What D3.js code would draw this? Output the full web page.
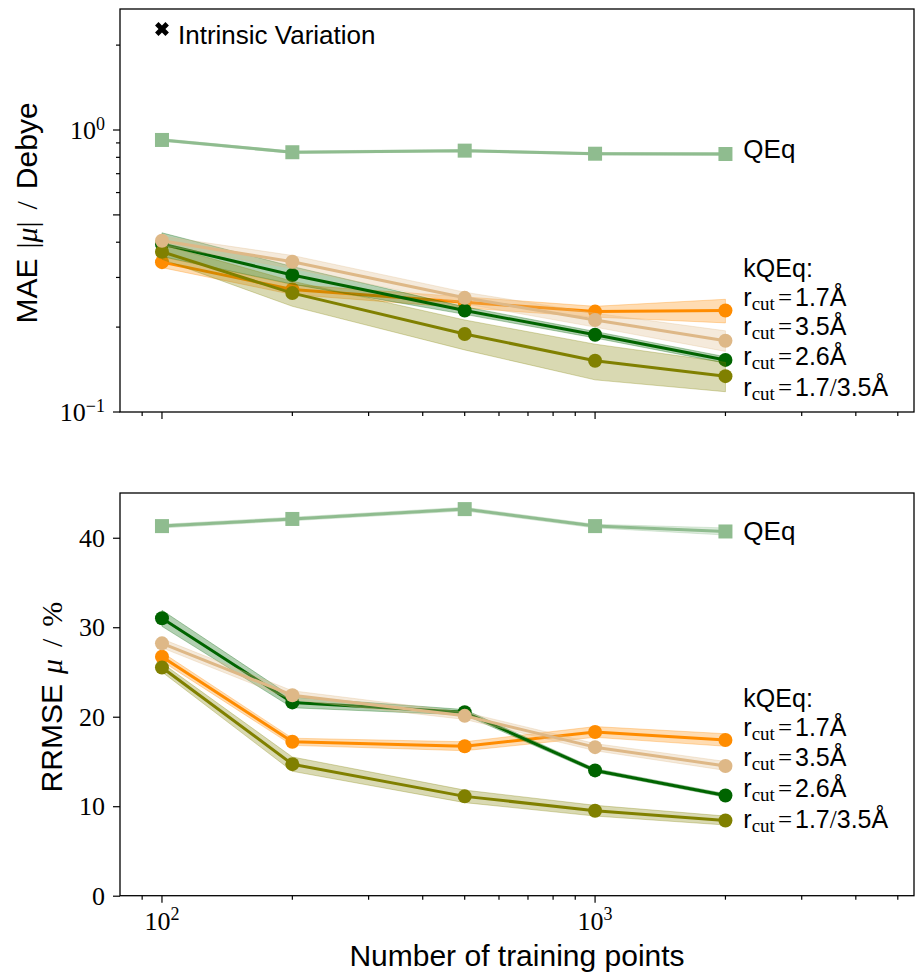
<!DOCTYPE html>
<html>
<head>
<meta charset="utf-8">
<script src="https://cdn.jsdelivr.net/npm/d3@7"></script>
<style>
  body { margin: 0; background: #fff; }
  svg { display: block; }
</style>
</head>
<body>
<div id="chart"></div>
<script>
const trainSizes = [100, 200, 500, 1000, 2000];

// MAE |mu| in Debye: mean and spread for each model
const maeQEq = [0.922, 0.834, 0.845, 0.824, 0.822];
const maeQEqStd = [0.010, 0.008, 0.008, 0.008, 0.010];
const maeR17 = [0.340, 0.272, 0.245, 0.227, 0.229];
const maeR17Std = [0.015, 0.011, 0.011, 0.010, 0.022];
const maeR35 = [0.405, 0.341, 0.254, 0.212, 0.179];
const maeR35Std = [0.015, 0.018, 0.012, 0.012, 0.015];
const maeR26 = [0.394, 0.306, 0.229, 0.188, 0.153];
const maeR26Std = [0.038, 0.022, 0.007, 0.005, 0.004];
const maeR1735 = [0.370, 0.264, 0.189, 0.152, 0.134];
const maeR1735Std = [0.022, 0.027, 0.023, 0.022, 0.016];

// RRMSE mu in %
const rrmseQEq = [41.3, 42.1, 43.2, 41.3, 40.7];
const rrmseQEqStd = [0.2, 0.2, 0.2, 0.2, 0.4];
const rrmseR17 = [26.7, 17.2, 16.7, 18.3, 17.4];
const rrmseR17Std = [0.5, 0.4, 0.5, 0.6, 0.7];
const rrmseR35 = [28.2, 22.4, 20.1, 16.6, 14.5];
const rrmseR35Std = [0.5, 0.5, 0.4, 0.4, 0.5];
const rrmseR26 = [31.0, 21.6, 20.5, 14.0, 11.2];
const rrmseR26Std = [0.9, 0.6, 0.3, 0.2, 0.2];
const rrmseR1735 = [25.5, 14.7, 11.1, 9.5, 8.4];
const rrmseR1735Std = [0.5, 0.8, 0.7, 0.6, 0.5];

const xMajorTicks = [100, 1000];
const xMinorTicks = [90, 200, 300, 400, 500, 600, 700, 800, 900, 2000, 3000, 4000, 5000];
const maeMajorTicks = [0.1, 1];
const maeMinorTicks = [0.2, 0.3, 0.4, 0.5, 0.6, 0.7, 0.8, 0.9, 2];
const rrmseTicks = [0, 10, 20, 30, 40];

// right-hand annotations: QEq, "kQEq:", then one per cutoff
const cutLabels = ["1.7Å", "3.5Å", "2.6Å", "1.7/3.5Å"];
const labelX = 2200;
const maeLabelY = [0.794, 0.301, 0.2376, 0.1875, 0.147, 0.114];
const rrmseLabelY = [39.7, 21.1, 17.9, 14.5, 11.05, 7.6];

const colors = {
    qeq: "#8fbc8f",
    r17: "#ff8c00",
    r35: "#deb887",
    r26: "#006400",
    r1735: "#808000"
};

const SANS = "Liberation Sans, Arial, sans-serif";
const SERIF = "Liberation Serif, Times New Roman, Times, DejaVu Serif, serif";

const width = 915, height = 972;
const svg = d3.select("#chart").append("svg")
    .attr("width", width)
    .attr("height", height);

const x = d3.scaleLog().domain([80, 5450]).range([120, 914]);
const yMae = d3.scaleLog().domain([0.1, 2.686]).range([412, 9]);
const yRrmse = d3.scaleLinear().domain([0, 45]).range([895.7, 493]);

function makeSeries(means, stds, color, marker) {
    return trainSizes.map((n, i) => ({ n, v: means[i], s: stds[i], color, marker }));
}

const maeSeries = [
    makeSeries(maeQEq, maeQEqStd, colors.qeq, "square"),
    makeSeries(maeR17, maeR17Std, colors.r17, "circle"),
    makeSeries(maeR26, maeR26Std, colors.r26, "circle"),
    makeSeries(maeR1735, maeR1735Std, colors.r1735, "circle"),
    makeSeries(maeR35, maeR35Std, colors.r35, "circle")
];
const rrmseSeries = [
    makeSeries(rrmseQEq, rrmseQEqStd, colors.qeq, "square"),
    makeSeries(rrmseR17, rrmseR17Std, colors.r17, "circle"),
    makeSeries(rrmseR26, rrmseR26Std, colors.r26, "circle"),
    makeSeries(rrmseR1735, rrmseR1735Std, colors.r1735, "circle"),
    makeSeries(rrmseR35, rrmseR35Std, colors.r35, "circle")
];

const sans = sel => sel.style("font-family", SANS);
const serif = sel => sel.style("font-family", SERIF);

function drawPanel(y, series, labelY) {
    const g = svg.append("g");
    const [yBottom, yTop] = y.range();

    series.forEach(pts => {
        const c = pts[0].color;
        const area = d3.area()
            .x(d => x(d.n))
            .y0(d => y(d.v - d.s))
            .y1(d => y(d.v + d.s));
        const line = d3.line()
            .x(d => x(d.n))
            .y(d => y(d.v));

        g.append("path")
            .attr("d", area(pts))
            .attr("fill", c)
            .attr("fill-opacity", 0.3)
            .attr("stroke", c)
            .attr("stroke-opacity", 0.3)
            .attr("stroke-width", 1);

        g.append("path")
            .attr("d", line(pts))
            .attr("fill", "none")
            .attr("stroke", c)
            .attr("stroke-width", 3)
            .attr("stroke-linejoin", "round");

        if (pts[0].marker === "square") {
            g.selectAll(null).data(pts).join("rect")
                .attr("x", d => x(d.n) - 7)
                .attr("y", d => y(d.v) - 7)
                .attr("width", 14)
                .attr("height", 14)
                .attr("fill", c);
        } else {
            g.selectAll(null).data(pts).join("circle")
                .attr("cx", d => x(d.n))
                .attr("cy", d => y(d.v))
                .attr("r", 7)
                .attr("fill", c);
        }
    });

    // spines
    g.append("rect")
        .attr("x", x.range()[0])
        .attr("y", yTop)
        .attr("width", x.range()[1] - x.range()[0])
        .attr("height", yBottom - yTop)
        .attr("fill", "none")
        .attr("stroke", "#000")
        .attr("stroke-width", 1.3);

    // x ticks
    const xt = g.append("g").attr("stroke", "#000").attr("stroke-width", 1.2);
    xt.selectAll(null).data(xMajorTicks.concat(xMinorTicks)).join("line")
        .attr("x1", d => x(d)).attr("x2", d => x(d))
        .attr("y1", yBottom)
        .attr("y2", d => yBottom + (xMajorTicks.includes(d) ? 7 : 4));

    // right annotations
    const lx = x(labelX);
    const ann = g.append("g").attr("fill", "#000");
    ann.append("text").call(sans)
        .attr("x", lx).attr("y", y(labelY[0]))
        .attr("font-size", 26)
        .text("QEq");
    ann.append("text").call(sans)
        .attr("x", lx).attr("y", y(labelY[1]))
        .attr("font-size", 25)
        .text("kQEq:");
    cutLabels.forEach((lab, i) => {
        const t = ann.append("text")
            .attr("x", lx).attr("y", y(labelY[i + 2]))
            .attr("font-size", 25);
        t.append("tspan").call(sans).text("r");
        t.append("tspan").call(serif).attr("font-size", 19)
            .attr("dy", 4).text("cut");
        t.append("tspan").call(serif).attr("dy", -4).attr("dx", 3).text("=");
        const parts = lab.split("/");
        t.append("tspan").call(sans).attr("dx", 3).text(parts[0]);
        if (parts.length > 1) {
            t.append("tspan").call(serif).text("/");
            t.append("tspan").call(sans).text(parts[1]);
        }
    });
    return g;
}

// ---- top panel: MAE (log)
const topPanel = drawPanel(yMae, maeSeries, maeLabelY);
const yt = topPanel.append("g").attr("stroke", "#000").attr("stroke-width", 1.2);
yt.selectAll(null).data(maeMajorTicks.concat(maeMinorTicks)).join("line")
    .attr("x1", 120)
    .attr("x2", d => 120 - (maeMajorTicks.includes(d) || d === 0.5 ? 7 : 4))
    .attr("y1", d => yMae(d)).attr("y2", d => yMae(d));

maeMajorTicks.forEach(v => {
    const t = topPanel.append("text").call(serif)
        .attr("x", 105).attr("y", yMae(v) + 8.5)
        .attr("text-anchor", "end")
        .attr("font-size", 26);
    t.append("tspan").text("10");
    t.append("tspan").attr("font-size", 18).attr("dy", -9)
        .text(String(Math.round(Math.log10(v))).replace("-", "\u2212"));
});

// legend for intrinsic variation
topPanel.append("path")
    .attr("d", d3.symbol(d3.symbolCross, 120)())
    .attr("transform", `translate(${x(100)},29) rotate(45)`)
    .attr("fill", "#000");
topPanel.append("text").call(sans)
    .attr("x", 178).attr("y", 43.5)
    .attr("font-size", 26)
    .text("Intrinsic Variation");

const yl1 = topPanel.append("text")
    .attr("transform", "translate(37,213) rotate(-90)")
    .attr("text-anchor", "middle")
    .attr("font-size", 30);
yl1.append("tspan").call(sans).text("MAE");
yl1.append("tspan").call(serif).attr("dx", 10).text("|");
yl1.append("tspan").call(serif).attr("font-style", "italic").text("μ");
yl1.append("tspan").call(serif).text("|");
yl1.append("tspan").call(serif).attr("dx", 12).text("/");
yl1.append("tspan").call(sans).attr("dx", 12).text("Debye");

// ---- bottom panel: RRMSE (linear)
const bottomPanel = drawPanel(yRrmse, rrmseSeries, rrmseLabelY);
const yAxis = d3.axisLeft(yRrmse)
    .tickValues(rrmseTicks)
    .tickSize(7)
    .tickSizeOuter(0)
    .tickPadding(8);
const ya = bottomPanel.append("g")
    .attr("transform", "translate(120,0)")
    .call(yAxis)
    .attr("font-family", null)
    .attr("font-size", null);
ya.select(".domain").remove();
ya.selectAll("line").attr("stroke", "#000").attr("stroke-width", 1.2);
ya.selectAll("text")
    .call(serif)
    .attr("font-size", 26).attr("fill", "#000")
    .attr("dy", "0.33em");

xMajorTicks.forEach(v => {
    const t = bottomPanel.append("text").call(serif)
        .attr("x", x(v)).attr("y", 930)
        .attr("text-anchor", "middle")
        .attr("font-size", 26);
    t.append("tspan").text("10");
    t.append("tspan").attr("font-size", 18).attr("dy", -10)
        .text(String(Math.round(Math.log10(v))));
});

const yl2 = bottomPanel.append("text")
    .attr("transform", "translate(61.5,697) rotate(-90)")
    .attr("text-anchor", "middle")
    .attr("font-size", 30);
yl2.append("tspan").call(sans).text("RRMSE");
yl2.append("tspan").call(serif).attr("font-style", "italic").attr("dx", 10).text("μ");
yl2.append("tspan").call(serif).attr("dx", 12).text("/");
yl2.append("tspan").call(serif).attr("dx", 12).text("%");

bottomPanel.append("text").call(sans)
    .attr("x", (x.range()[0] + x.range()[1]) / 2).attr("y", 966)
    .attr("text-anchor", "middle")
    .attr("font-size", 30)
    .text("Number of training points");
</script>
</body>
</html>
